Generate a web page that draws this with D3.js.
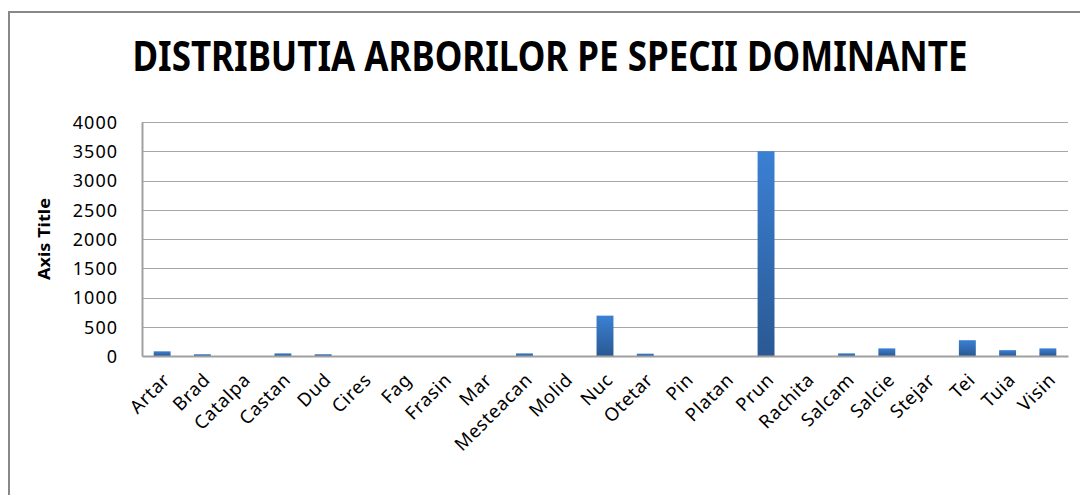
<!DOCTYPE html>
<meta charset="utf-8">
<head>
<title>Distributia arborilor pe specii dominante</title>
<script src="https://cdn.jsdelivr.net/npm/d3@7"></script>
<style>
body { margin: 0; background: #fff; }
svg { display: block; font-family: "Noto Sans", "Open Sans", sans-serif; }
.grid line { stroke: #a6a6a6; stroke-width: 1px; }
.axis path, .axis line { stroke: #a0a0a0; }
.axis text { fill: #000; font-family: "Noto Sans", "Open Sans", sans-serif; }
</style>
</head>
<body>
<script>
// Chart values
const species = ["Artar", "Brad", "Catalpa", "Castan", "Dud", "Cires", "Fag", "Frasin",
  "Mar", "Mesteacan", "Molid", "Nuc", "Otetar", "Pin", "Platan", "Prun", "Rachita",
  "Salcam", "Salcie", "Stejar", "Tei", "Tuia", "Visin"];
const counts = [80, 30, 0, 45, 30, 0, 0, 0, 0, 45, 0, 690, 40, 0, 0, 3500, 0,
  45, 130, 0, 270, 100, 130];
const yTicks = [0, 500, 1000, 1500, 2000, 2500, 3000, 3500, 4000];
const chartTitle = "DISTRIBUTIA ARBORILOR PE SPECII DOMINANTE";
const yTitle = "Axis Title";

const W = 1080, H = 495;
const plot = {left: 142, right: 1068, top: 122, bottom: 356};

const svg = d3.select("body").append("svg")
    .attr("width", W)
    .attr("height", H);

// bar gradient
const grad = svg.append("defs").append("linearGradient")
    .attr("id", "barGrad")
    .attr("x1", 0).attr("y1", 0).attr("x2", 0).attr("y2", 1);
grad.append("stop").attr("offset", "0%").attr("stop-color", "#3b80d4");
grad.append("stop").attr("offset", "100%").attr("stop-color", "#2a5993");

// outer chart frame
svg.append("rect")
    .attr("x", 9).attr("y", 12)
    .attr("width", W + 20).attr("height", H + 20)
    .attr("fill", "none")
    .attr("stroke", "#888")
    .attr("stroke-width", 2);

const x = d3.scaleBand()
    .domain(species)
    .range([plot.left, plot.right])
    .paddingInner(0.58)
    .paddingOuter(0.29);

const y = d3.scaleLinear()
    .domain([0, 4000])
    .range([plot.bottom, plot.top]);

// gridlines
svg.append("g")
    .attr("class", "grid")
    .selectAll("line")
    .data(yTicks.slice(1))
    .join("line")
    .attr("x1", plot.left).attr("x2", plot.right)
    .attr("y1", d => Math.round(y(d)) + 0.5)
    .attr("y2", d => Math.round(y(d)) + 0.5);

// bars
svg.append("g")
    .selectAll("rect")
    .data(species)
    .join("rect")
    .attr("x", d => x(d))
    .attr("width", x.bandwidth())
    .attr("y", (d, i) => y(counts[i]))
    .attr("height", (d, i) => plot.bottom - y(counts[i]))
    .attr("fill", "url(#barGrad)");

// y axis
const yAxis = svg.append("g")
    .attr("class", "axis")
    .attr("transform", `translate(${plot.left},0)`)
    .call(d3.axisLeft(y).tickValues(yTicks).tickFormat(d3.format("d"))
        .tickSize(0).tickPadding(24));
yAxis.select(".domain").attr("stroke-width", 2);
yAxis.selectAll("text")
    .attr("dy", "0.35em")
    .attr("font-size", 18)
    .attr("letter-spacing", 1);

// x axis
const xAxis = svg.append("g")
    .attr("class", "axis")
    .attr("transform", `translate(0,${plot.bottom})`)
    .call(d3.axisBottom(x).tickSize(0).tickSizeOuter(0).tickPadding(0));
xAxis.select(".domain").attr("stroke-width", 2);
xAxis.selectAll("text")
    .attr("text-anchor", "end")
    .attr("dy", 0)
    .attr("font-size", 18.5)
    .attr("letter-spacing", 0.7)
    .attr("transform", "translate(9,25) rotate(-45)");

// title, stretched vertically like the original condensed face
svg.append("text")
    .attr("transform", "translate(550,71) scale(1,1.35)")
    .attr("text-anchor", "middle")
    .attr("font-weight", "bold")
    .attr("font-size", 31)
    .attr("textLength", 835)
    .attr("lengthAdjust", "spacingAndGlyphs")
    .text(chartTitle);

// y axis title
svg.append("text")
    .attr("transform", "translate(50,239) rotate(-90)")
    .attr("text-anchor", "middle")
    .attr("font-weight", "bold")
    .attr("font-size", 16)
    .attr("textLength", 82)
    .attr("lengthAdjust", "spacingAndGlyphs")
    .text(yTitle);
</script>
</body>
</html>
